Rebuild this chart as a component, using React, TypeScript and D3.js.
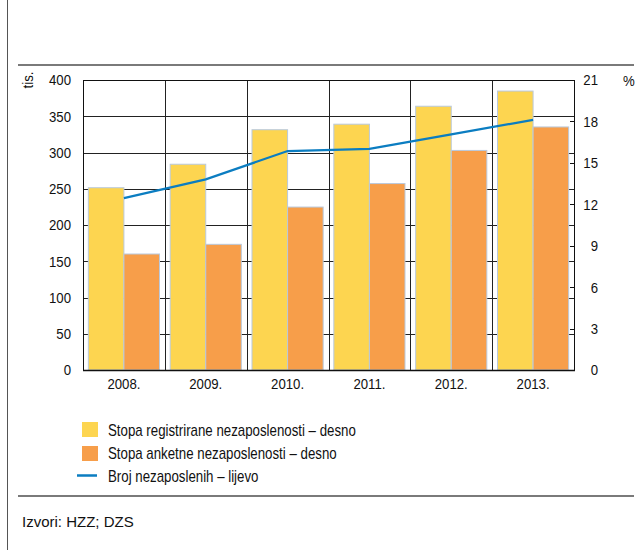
import React from "react";
import * as d3 from "d3";

const years = ["2008.", "2009.", "2010.", "2011.", "2012.", "2013."];
const registered = [13.2, 14.9, 17.4, 17.8, 19.1, 20.2];
const survey = [8.4, 9.1, 11.8, 13.5, 15.9, 17.6];
const unemployed = [237, 263, 302, 305, 325, 345];
const leftTicks = [0, 50, 100, 150, 200, 250, 300, 350, 400];
const rightTicks = [0, 3, 6, 9, 12, 15, 18, 21];
const legendLabels = [
  "Stopa registrirane nezaposlenosti – desno",
  "Stopa anketne nezaposlenosti – desno",
  "Broj nezaposlenih – lijevo",
];

const W = 643;
const H = 550;
const FONT = "'Liberation Sans', Arial, sans-serif";
const YELLOW = "#fdd550";
const ORANGE = "#f79e4a";
const BLUE = "#0b7dc1";
const BAR_STROKE = "#b9c9dd";

function NText(props: {
  x: number;
  y: number;
  size: number;
  sx: number;
  anchor?: string;
  dy?: string;
  rotate?: number;
  children: React.ReactNode;
}) {
  const { x, y, size, sx, anchor, dy, rotate, children } = props;
  const tr = `translate(${x},${y})${rotate ? ` rotate(${rotate})` : ""} scale(${sx},1)`;
  return (
    <text transform={tr} textAnchor={anchor || "start"} dy={dy} fontSize={size} fill="#111">
      {children}
    </text>
  );
}

export default function App() {
  const plot = { left: 83, right: 574, top: 80, bottom: 370 };
  const x = d3.scaleBand<string>().domain(years).range([plot.left, plot.right]).padding(0);
  const inner = d3
    .scaleBand<string>()
    .domain(["reg", "lfs"])
    .range([0, x.bandwidth()])
    .paddingInner(0)
    .paddingOuter(0.15);
  const yL = d3.scaleLinear().domain([0, 400]).range([plot.bottom, plot.top]);
  const yR = d3.scaleLinear().domain([0, 21]).range([plot.bottom, plot.top]);

  const line = d3
    .line<number>()
    .x((_, i) => (x(years[i]) as number) + x.bandwidth() / 2)
    .y((d) => yL(d));

  return (
    <div style={{ position: "absolute", left: 0, top: 0 }}>
      <svg width={W} height={H} style={{ display: "block", fontFamily: FONT }}>
        <rect x={0} y={0} width={W} height={H} fill="#fff" />
        {/* frame lines */}
        <line x1={7.5} x2={7.5} y1={0} y2={H} stroke="#555" strokeWidth={1} />
        <line x1={18} x2={634} y1={65} y2={65} stroke="#7a7a7a" strokeWidth={2} />
        <line x1={18} x2={634} y1={496} y2={496} stroke="#7a7a7a" strokeWidth={2} />

        {/* horizontal gridlines */}
        {leftTicks.map((t) => (
          <line
            key={"g" + t}
            x1={plot.left}
            x2={plot.right}
            y1={Math.round(yL(t)) + 0.5}
            y2={Math.round(yL(t)) + 0.5}
            stroke="#222"
            strokeWidth={1}
          />
        ))}
        {/* vertical separators */}
        {years.map((yr, i) =>
          i === 0 ? null : (
            <line
              key={"v" + yr}
              x1={Math.round(x(yr) as number) + 0.5}
              x2={Math.round(x(yr) as number) + 0.5}
              y1={plot.top}
              y2={plot.bottom}
              stroke="#222"
              strokeWidth={1}
            />
          )
        )}

        {/* bars */}
        {years.map((yr, i) => (
          <g key={"b" + yr}>
            <rect
              x={(x(yr) as number) + (inner("reg") as number)}
              y={yR(registered[i])}
              width={inner.bandwidth()}
              height={plot.bottom - yR(registered[i])}
              fill={YELLOW}
              stroke={BAR_STROKE}
              strokeWidth={1}
            />
            <rect
              x={(x(yr) as number) + (inner("lfs") as number)}
              y={yR(survey[i])}
              width={inner.bandwidth()}
              height={plot.bottom - yR(survey[i])}
              fill={ORANGE}
              stroke={BAR_STROKE}
              strokeWidth={1}
            />
          </g>
        ))}

        {/* axes lines */}
        <line x1={plot.left + 0.5} x2={plot.left + 0.5} y1={plot.top} y2={plot.bottom + 1} stroke="#111" strokeWidth={1} />
        <line x1={plot.right + 0.5} x2={plot.right + 0.5} y1={plot.top} y2={plot.bottom + 1} stroke="#111" strokeWidth={1} />
        <line x1={plot.left} x2={plot.right + 1} y1={plot.bottom + 0.5} y2={plot.bottom + 0.5} stroke="#111" strokeWidth={1.5} />
        <line x1={plot.left} x2={plot.right + 1} y1={plot.top + 0.5} y2={plot.top + 0.5} stroke="#111" strokeWidth={1} />

        {/* right axis inward ticks */}
        {rightTicks.map((t) => (
          <line
            key={"rt" + t}
            x1={plot.right - 4}
            x2={plot.right + 1}
            y1={Math.round(yR(t)) + 0.5}
            y2={Math.round(yR(t)) + 0.5}
            stroke="#111"
            strokeWidth={1}
          />
        ))}

        {/* line series */}
        <path d={line(unemployed) || ""} fill="none" stroke={BLUE} strokeWidth={2.2} />

        {/* left tick labels */}
        {leftTicks.map((t) => (
          <NText key={"lt" + t} x={71} y={yL(t)} dy="0.36em" anchor="end" size={15} sx={0.88}>
            {t}
          </NText>
        ))}
        {/* right tick labels */}
        {rightTicks.map((t) => (
          <NText key={"rl" + t} x={598} y={yR(t)} dy="0.36em" anchor="end" size={15} sx={0.88}>
            {t}
          </NText>
        ))}
        {/* x labels */}
        {years.map((yr) => (
          <NText
            key={"xl" + yr}
            x={(x(yr) as number) + x.bandwidth() / 2}
            y={389}
            anchor="middle"
            size={15}
            sx={0.88}
          >
            {yr}
          </NText>
        ))}
        {/* axis units */}
        <NText x={33} y={80} rotate={-90} anchor="middle" size={15} sx={0.88}>
          tis.
        </NText>
        <NText x={623} y={86} size={15} sx={0.88}>
          %
        </NText>

        {/* legend */}
        <rect x={82} y={422} width={16} height={15} fill={YELLOW} />
        <rect x={82} y={446} width={16} height={15} fill={ORANGE} />
        <line x1={77} x2={97} y1={475.5} y2={475.5} stroke={BLUE} strokeWidth={2.5} />
        {legendLabels.map((l, i) => (
          <NText key={l} x={108} y={435.5 + i * 23} size={16} sx={0.83}>
            {l}
          </NText>
        ))}

        {/* source */}
        <text x={22} y={527} fontSize={15} fill="#111">
          Izvori: HZZ; DZS
        </text>
      </svg>
    </div>
  );
}
